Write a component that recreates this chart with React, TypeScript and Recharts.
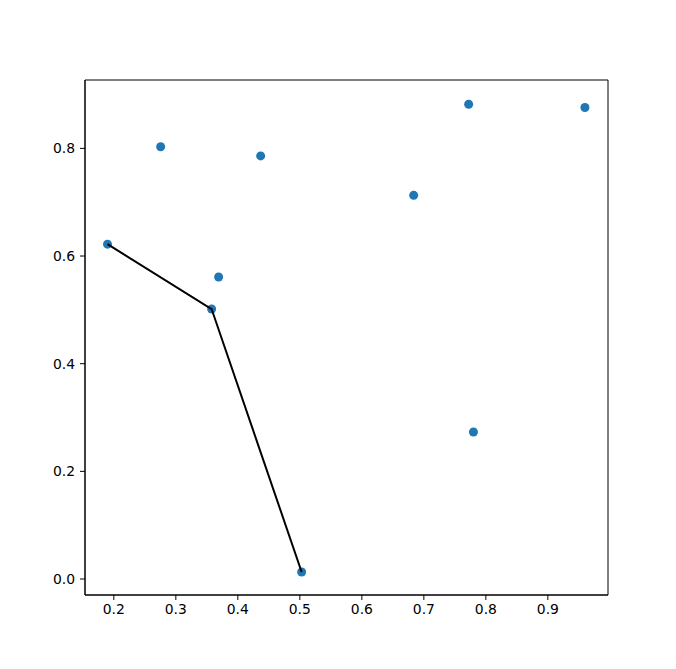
import React from 'react';
import { ScatterChart, Scatter, XAxis, YAxis, ReferenceArea } from 'recharts';

const xs = [0.1898, 0.2755, 0.4368, 0.369, 0.3577, 0.5029, 0.6836, 0.7723, 0.780, 0.9598];
const ys = [0.622, 0.803, 0.786, 0.561, 0.5015, 0.013, 0.7127, 0.882, 0.273, 0.876];
const pathXs = [0.1898, 0.3577, 0.5029];
const pathYs = [0.622, 0.5015, 0.013];
const xTicks = [0.2, 0.3, 0.4, 0.5, 0.6, 0.7, 0.8, 0.9];
const yTicks = [0.0, 0.2, 0.4, 0.6, 0.8];
const xDomain = [0.1535, 0.997];
const yDomain = [-0.0297, 0.927];

const points = xs.map((x, i) => ({ x, y: ys[i] }));
const path = pathXs.map((x, i) => ({ x, y: pathYs[i] }));

const Dot = (props: any) => {
  const { cx, cy } = props;
  return <circle cx={cx} cy={cy} r={4.5} fill="#1f77b4" />;
};
const Nothing = () => <g />;

export default function App() {
  return (
    <div style={{ position: 'absolute', left: 0, top: 0, width: 676, height: 669, background: '#fff' }}>
      <ScatterChart width={676} height={669} margin={{ top: 80, right: 68, bottom: 0, left: 0 }}
        style={{ fontFamily: 'DejaVu Sans' }}>
        <XAxis type="number" dataKey="x" domain={xDomain} ticks={xTicks} height={74}
          allowDataOverflow tickFormatter={(v: number) => v.toFixed(1)}
          stroke="#000" tickSize={5} tickMargin={4}
          tick={{ fill: '#000', fontSize: 13.9 }} axisLine={{ stroke: '#000', strokeWidth: 1 }} />
        <YAxis type="number" dataKey="y" domain={yDomain} ticks={yTicks} width={85}
          allowDataOverflow tickFormatter={(v: number) => v.toFixed(1)}
          stroke="#000" tickSize={5} tickMargin={5}
          tick={{ fill: '#000', fontSize: 13.9 }} axisLine={{ stroke: '#000', strokeWidth: 1 }} />
        <ReferenceArea x1={xDomain[0]} x2={xDomain[1]} y1={yDomain[0]} y2={yDomain[1]}
          fill="none" fillOpacity={0} stroke="#000" strokeWidth={1} ifOverflow="visible" />
        <Scatter data={points} fill="#1f77b4" shape={<Dot />} isAnimationActive={false} />
        <Scatter data={path} shape={<Nothing />} line={{ stroke: '#000', strokeWidth: 2 }}
          isAnimationActive={false} />
      </ScatterChart>
    </div>
  );
}
